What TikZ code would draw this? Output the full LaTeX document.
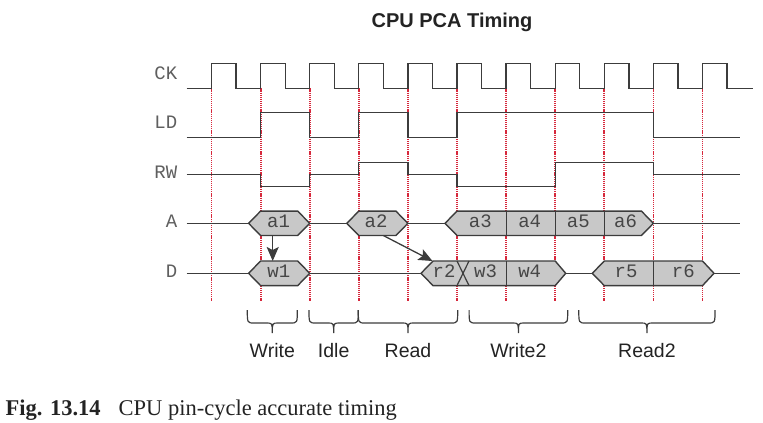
\documentclass[tikz,border=0pt]{standalone}
\usepackage{fontspec}
\setmainfont{Liberation Serif}
\newfontfamily\monof{Liberation Mono}
\newfontfamily\sansf{Liberation Sans}
\usetikzlibrary{arrows.meta}
\definecolor{sigc}{RGB}{60,60,60}
\definecolor{labc}{RGB}{95,95,95}
\definecolor{redd}{RGB}{215,40,60}
\definecolor{hexf}{RGB}{200,200,200}
\definecolor{txtc}{RGB}{35,35,35}
\definecolor{hext}{RGB}{70,70,70}
\newcommand\mybrace[2]{%
  \draw[brc] (#1,310) .. controls (#1,323) .. (#1+7,323) -- ({(#1+#2)/2-6},323)
    .. controls ({(#1+#2)/2},323) .. ({(#1+#2)/2},333)
    .. controls ({(#1+#2)/2},323) .. ({(#1+#2)/2+6},323) -- (#2-7,323)
    .. controls (#2,323) .. (#2,310);}
\begin{document}
\begin{tikzpicture}[x=1bp,y=-1bp,
  sig/.style={draw=sigc,line width=1.3bp},
  hexs/.style={draw=sigc,fill=hexf,line width=1.4bp,line join=miter},
  divs/.style={draw=sigc,line width=1.2bp},
  reddot/.style={draw=redd,line width=1.8bp,dash pattern=on 1.2bp off 0.9bp},
  siglab/.style={anchor=base east,inner sep=0pt,text=labc,font=\monof\fontsize{19bp}{19bp}\selectfont},
  hexlab/.style={anchor=base,inner sep=0pt,text=hext,font=\monof\fontsize{19bp}{19bp}\selectfont},
  phlab/.style={anchor=base,inner sep=0pt,text=txtc,font=\sansf\fontsize{19.5bp}{19.5bp}\selectfont},
  brc/.style={draw=sigc,line width=1.2bp},
  arr/.style={draw=sigc,line width=1.3bp,-{Stealth[length=14bp,width=12bp,inset=3bp]}}]
\useasboundingbox (0,0) rectangle (763,422);

% red dotted clock-edge markers (behind everything)
\foreach \k in {0,...,10} \draw[reddot] ({211.5+49.1*\k},88.3) -- ({211.5+49.1*\k},301);

% title
\node[anchor=base,inner sep=0pt,text=txtc,font=\sansf\bfseries\fontsize{20bp}{20bp}\selectfont] (title) at (452,27.5) {CPU PCA Timing};

% signal labels
\node[siglab] (lck) at (177.5,79.3) {CK};
\node[siglab] (lld) at (177.5,128.3) {LD};
\node[siglab] (lrw) at (177.5,178.3) {RW};
\node[siglab] (la)  at (177.5,227.7) {A};
\node[siglab] (ld)  at (177.5,277.7) {D};

% clock
\draw[sig] (186.7,88.3) foreach \k in {0,...,10} {
   -- ({211.5+49.1*\k},88.3) |- ({236.05+49.1*\k},63.3) -- ({236.05+49.1*\k},88.3) } -- (752.7,88.3);

% LD
\draw[sig] (186.7,137.7) -- (260.6,137.7) -- (260.6,112.7) -- (309.7,112.7) -- (309.7,137.7)
  -- (358.8,137.7) -- (358.8,112.7) -- (407.9,112.7) -- (407.9,137.7) -- (457,137.7)
  -- (457,112.7) -- (653.4,112.7) -- (653.4,137.7) -- (740,137.7);

% RW
\draw[sig] (186.7,174.7) -- (260.6,174.7) -- (260.6,186.7) -- (309.7,186.7) -- (309.7,174.7)
  -- (358.8,174.7) -- (358.8,162.7) -- (407.9,162.7) -- (407.9,174.7) -- (457,174.7)
  -- (457,186.7) -- (555.2,186.7) -- (555.2,162.7) -- (653.4,162.7) -- (653.4,174.7) -- (740,174.7);

% bus base lines
\draw[sig] (186.7,223.3) -- (740,223.3);
\draw[sig] (186.7,273.3) -- (740,273.3);

% A bus
\draw[hexs] (248.6,223.3) -- (260.6,211.1) -- (297.7,211.1) -- (309.7,223.3) -- (297.7,235.5) -- (260.6,235.5) -- cycle;
\draw[hexs] (346.8,223.3) -- (358.8,211.1) -- (395.9,211.1) -- (407.9,223.3) -- (395.9,235.5) -- (358.8,235.5) -- cycle;
\draw[hexs] (445,223.3) -- (457,211.1) -- (641.4,211.1) -- (653.4,223.3) -- (641.4,235.5) -- (457,235.5) -- cycle;
\foreach \x in {506.1,555.2,604.3} \draw[divs] (\x,211.1) -- (\x,235.5);

% D bus
\draw[hexs] (248.6,273.3) -- (260.6,261) -- (297.7,261) -- (309.7,273.3) -- (297.7,285.6) -- (260.6,285.6) -- cycle;
\draw[hexs] (421,273.3) -- (433,261) -- (555.2,261) -- (565.7,273.3) -- (555.2,285.6) -- (433,285.6) -- cycle;
\draw[divs] (457,261) -- (469,285.6);
\draw[divs] (469,261) -- (457,285.6);
\draw[divs] (506.1,261) -- (506.1,285.6);
\draw[hexs] (592.3,273.3) -- (604.3,261) -- (702.5,261) -- (714,273.3) -- (702.5,285.6) -- (604.3,285.6) -- cycle;
\draw[divs] (653.4,261) -- (653.4,285.6);

% bus labels
\node[hexlab] (a1) at (278.5,227.3) {a1};
\node[hexlab] (a2) at (376,227.3) {a2};
\node[hexlab] (a3) at (480.3,227.3) {a3};
\node[hexlab] (a4) at (529.7,227.3) {a4};
\node[hexlab] (a5) at (578.3,227.3) {a5};
\node[hexlab] (a6) at (625.5,227.3) {a6};
\node[hexlab] (w1) at (278.8,277.7) {w1};
\node[hexlab] (r2) at (444,277.7) {r2};
\node[hexlab] (w3) at (485.5,277.7) {w3};
\node[hexlab] (w4) at (529.7,277.7) {w4};
\node[hexlab] (r5) at (626,277.7) {r5};
\node[hexlab] (r6) at (683.3,277.7) {r6};

% arrows
\coordinate (a1s) at (272.7,235.5);
\coordinate (w1n) at (272.7,261);
\coordinate (a2s) at (383.3,235.5);
\coordinate (r2n) at (432.5,261);
\draw[arr] (a1s) -- (w1n);
\draw[arr] (a2s) -- (r2n);

% braces
\mybrace{247.3}{297.3}
\mybrace{309}{358.3}
\mybrace{358.3}{457.7}
\mybrace{469.1}{567.7}
\mybrace{578.8}{715}
\node[phlab] (pw)  at (272.3,357) {Write};
\node[phlab] (pi)  at (333.7,357) {Idle};
\node[phlab] (pr)  at (408,357) {Read};
\node[phlab] (pw2) at (518.4,357) {Write2};
\node[phlab] (pr2) at (646.9,357) {Read2};

% caption
\node[anchor=base west,inner sep=0pt,text=txtc,font=\fontsize{22.5bp}{22.5bp}\selectfont] (cap) at (5.5,415.7)
  {\textbf{Fig. 13.14}\hspace{18bp}CPU pin-cycle accurate timing};
\end{tikzpicture}
\end{document}
